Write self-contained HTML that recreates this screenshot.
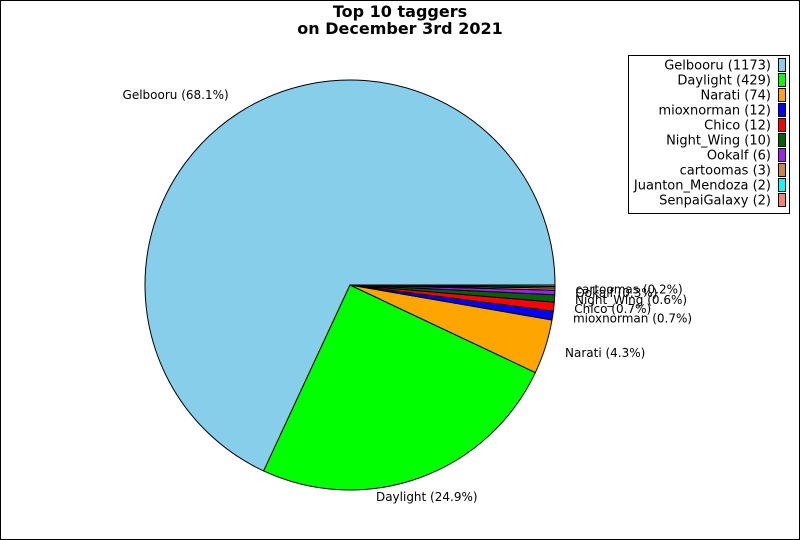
<!DOCTYPE html>
<html><head><meta charset="utf-8"><style>
html,body{margin:0;padding:0;background:#fff}
svg{display:block;font-family:"DejaVu Sans","Liberation Sans",sans-serif}
</style></head><body>
<svg id="chart" width="800" height="540">
<rect x="0.5" y="0.5" width="799" height="539" fill="#fff" stroke="#000"/>
<text x="400" y="17" text-anchor="middle" font-weight="bold" font-size="16">Top 10 taggers</text>
<text x="400" y="34" text-anchor="middle" font-weight="bold" font-size="16">on December 3rd 2021</text>
<g id="slices"></g>
<g id="labels"></g>
<rect x="628.5" y="55.5" width="161" height="158" fill="#fff" stroke="#000"/>
<g id="legend"></g>
</svg>
<script>
const names = ["Gelbooru","Daylight","Narati","mioxnorman","Chico","Night_Wing","Ookalf","cartoomas","Juanton_Mendoza","SenpaiGalaxy"];
const counts = [1173,429,74,12,12,10,6,3,2,2];
const colors = ["#87ceeb","#00ff00","#ffa500","#0000ff","#ff0000","#006400","#a020f0","#cd853f","#00ffff","#fa8072"];
const NS="http://www.w3.org/2000/svg";
const cx=350, cy=285, r=205;
const total=counts.reduce((a,b)=>a+b,0);
const gS=document.getElementById('slices'), gL=document.getElementById('labels'), gG=document.getElementById('legend');
let start=0;
counts.forEach((c,i)=>{
  const frac=c/total, a0=start*2*Math.PI, a1=(start+frac)*2*Math.PI;
  const x0=cx+r*Math.cos(a0), y0=cy-r*Math.sin(a0), x1=cx+r*Math.cos(a1), y1=cy-r*Math.sin(a1);
  const large=frac>0.5?1:0;
  const p=document.createElementNS(NS,'path');
  p.setAttribute('d',`M${cx},${cy} L${x0},${y0} A${r},${r} 0 ${large} 0 ${x1},${y1} Z`);
  p.setAttribute('fill',colors[i]);p.setAttribute('stroke','#000');p.setAttribute('stroke-width','1');
  
  
  gS.appendChild(p);
  const pct=frac*100;
  if(pct>=0.15){
    const am=(a0+a1)/2, lx=cx+1.1*r*Math.cos(am), ly=cy-1.1*r*Math.sin(am);
    const t=document.createElementNS(NS,'text');
    t.setAttribute('x',lx);t.setAttribute('y',ly+4);t.setAttribute('font-size','12');
    const ca=Math.cos(am);
    t.setAttribute('text-anchor',Math.abs(ca)<0.4?'middle':(ca<0?'end':'start'));
    t.textContent=`${names[i]} (${pct.toFixed(1)}%)`;
    
    
    gL.appendChild(t);
  }
  start+=frac;
  const ry=65+i*15;
  const lt=document.createElementNS(NS,'text');
  lt.setAttribute('x',771);lt.setAttribute('y',ry+4.5);lt.setAttribute('font-size','13');lt.setAttribute('text-anchor','end');
  lt.textContent=`${names[i]} (${c})`;
  
  
  gG.appendChild(lt);
  const sw=document.createElementNS(NS,'rect');
  sw.setAttribute('x',778.5);sw.setAttribute('y',ry-6.5);sw.setAttribute('width',7);sw.setAttribute('height',13);
  sw.setAttribute('fill',colors[i]);sw.setAttribute('stroke','#000');
  
  
  gG.appendChild(sw);
});
</script>
</body></html>
